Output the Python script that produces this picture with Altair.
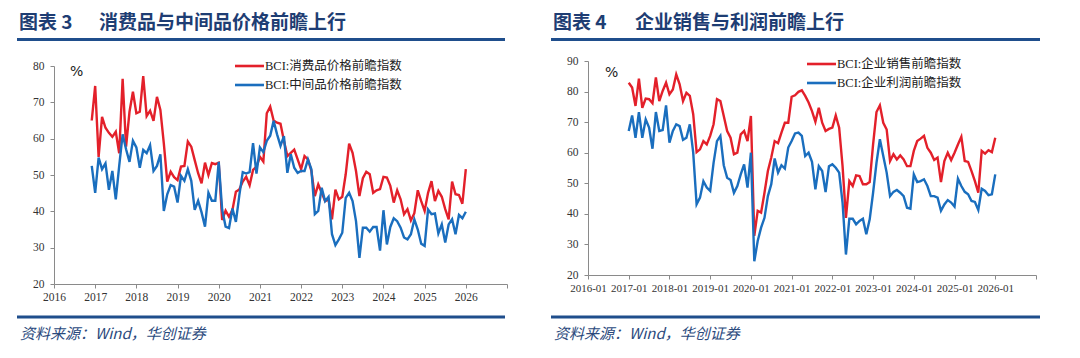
import altair as alt
import pandas as pd

# ---------------- data ----------------
left_start = "2016-12"
left_consumer = [65, 74.5, 55, 66, 63, 61.6, 60.5, 61.9, 56, 76.5, 57.8, 67.4,
                 72.9, 67, 67.4, 77.2, 66.2, 67.7, 64.9, 71.5, 67.9, 58.7, 48.2, 50.9,
                 49.4, 48.6, 52.3, 52.5, 59.2, 57.8, 54.1, 50.5, 47.7, 53.4, 50, 53.3,
                 53, 53.4, 37.6, 40.2, 38.5, 40.4, 45.4, 46, 48.2, 49.5, 47.2, 51.4,
                 52.3, 55, 53.7, 67, 68.8, 65, 64.4, 64.1, 59.4, 55.2, 56.1, 57,
                 54.3, 51.6, 55.2, 54.3, 51.1, 44.2, 47.4, 45.1, 42.8, 43.3, 37.8, 46,
                 43.3, 44, 50.2, 58.6, 56.1, 51.1, 44.2, 49.1, 50.9, 50.2, 45.1, 45.8,
                 46.1, 49.5, 49.3, 47, 42.4, 45.8, 43.3, 39.2, 40.6, 37.5, 39.5, 45.8,
                 42.8, 40.1, 45.1, 48.3, 42.8, 45.6, 44, 40.6, 37.8, 48.2, 44.7, 44.5,
                 42.1, 51.6]
left_intermediate = [52.5, 45.1, 54.8, 51.6, 53.2, 45.9, 51.1, 43.3, 52.5, 61.2, 57.1, 53.6,
                     59.4, 57.6, 52, 56.9, 56, 58.2, 51.1, 52.5, 55.7, 40.1, 44.7, 47.2,
                     46.8, 42.4, 49.8, 48.4, 51.6, 48.4, 40.4, 42.9, 39.7, 35.8, 45.1, 42.9,
                     42.9, 53.6, 40.5, 35.8, 35.4, 40.8, 37.1, 44.4, 50.8, 50.4, 50.8, 58.8,
                     50.4, 57.6, 56.3, 59.4, 60.8, 64.9, 61.2, 58, 60.7, 50.6, 55.7, 52,
                     50.6, 51.1, 51.1, 54.3, 51.6, 39.2, 40.1, 46.5, 42.8, 44, 33.7, 30.7,
                     32.3, 34.1, 43.7, 45.1, 42.8, 37.3, 27.2, 35.5, 35.5, 34.4, 35.7, 35.7,
                     29.2, 40.3, 30.9, 35.7, 38.1, 37.3, 35.5, 32.8, 32.3, 33.7, 37.8, 35,
                     31.1, 30.5, 40.5, 39.2, 39.4, 33.9, 36.4, 31.4, 36.4, 37.8, 33.7, 39,
                     38.1, 39.9]
left_series = ["BCI:消费品价格前瞻指数", "BCI:中间品价格前瞻指数"]

right_start = "2017-01"
right_sales = [82.9, 81.3, 75.3, 84.2, 74.7, 77.7, 77.5, 76.2, 84.6, 76.9, 80.2, 82.9,
               79.1, 80.7, 85.6, 82.4, 76.9, 79.6, 78.6, 72.6, 60.2, 61.1, 63.8, 62.7,
               65.5, 69.3, 77.5, 76.9, 72, 67.1, 64.9, 59.5, 60, 66, 67.1, 63.8,
               72, 32.8, 41, 40.4, 46.9, 54, 58.4, 63.8, 63.1, 66.6, 69.8, 69.8,
               78.3, 78.8, 79.9, 80.4, 78.6, 76.4, 73.6, 70.1, 74.7, 69.8, 67.1, 67.8,
               68.2, 72.2, 68.2, 55.7, 38.7, 50.7, 49.1, 52.6, 52.4, 49.7, 49.7, 50.4,
               62.7, 73.3, 75.5, 69.8, 67.6, 57.3, 59.5, 57.8, 59.1, 57.8, 55.6, 55.6,
               60.6, 63.8, 64.6, 65.5, 61.6, 60, 57.6, 58.4, 50.4, 57.3, 60, 57.6,
               60, 62.7, 65.2, 57.3, 57, 54, 50.7, 46.9, 60.6, 59.7, 60.8, 60.2,
               64.9]
right_profit = [67.1, 72.2, 64.9, 73.3, 64.9, 70.9, 68.2, 61.3, 73.3, 67.1, 67.4, 75.5,
                63.3, 67.1, 69.3, 68.7, 64.2, 64.9, 69.3, 60, 43.1, 45.3, 50.7, 48.6,
                47.5, 56.7, 63.8, 65.5, 55.9, 51.8, 51.1, 46.9, 49.1, 52.9, 56.2, 48.6,
                60, 24.5, 31.1, 35.5, 38.7, 45.8, 49.7, 58.1, 53.5, 55.9, 54.8, 61.7,
                63.8, 66.3, 66.6, 65.5, 58.9, 60, 57, 48, 55.6, 54, 47.1, 55.6,
                56.2, 55.1, 53.5, 43.7, 26.7, 38.4, 38.4, 36.6, 37.7, 38.4, 33.3, 38.2,
                46.9, 56.7, 64.4, 58.9, 53.5, 45.8, 47.2, 47.8, 46.9, 45.8, 42, 41.7,
                52.9, 50.4, 50.7, 51.3, 49.1, 45.8, 45.8, 45.3, 41, 43.1, 44.5, 43.7,
                42.4, 51.5, 49.1, 47.2, 46.4, 44.2, 43.9, 41.3, 48.2, 47.5, 46.1, 46.4,
                52.9]
right_series = ["BCI:企业销售前瞻指数", "BCI:企业利润前瞻指数"]

left_title_no = "图表 3"
left_title = "消费品与中间品价格前瞻上行"
right_title_no = "图表 4"
right_title = "企业销售与利润前瞻上行"
source_text = "资料来源：Wind，华创证券"

RED = "#e3202a"
BLUE = "#1a6ebe"
NAVY = "#1e3d73"
RULE = "#1f4e8c"
CJK = "Noto Sans CJK SC"
SERIF = "Liberation Serif, Noto Sans CJK SC"


def frame(start, a, b, names):
    dates = pd.date_range(start=start + "-01", periods=len(a), freq="MS")
    t = dates.year + (dates.month - 1) / 12.0
    d1 = pd.DataFrame({"t": t, "value": a, "series": names[0]})
    d2 = pd.DataFrame({"t": t, "value": b, "series": names[1]})
    return pd.concat([d1, d2], ignore_index=True)


one = pd.DataFrame({"k": [0]})


def panel(df, names, ydom, yvals, xlabel_expr, W, H, yrange, xfont, title_no, title,
          title_x2, rule_w, leg_x, leg_y, pct_xy):
    axis_common = dict(labelFont=SERIF, labelColor="#333",
                       domainColor="#8a8a8a", tickColor="#8a8a8a", tickSize=4,
                       grid=False, title=None, labelOverlap=False, labelFlush=False)
    lines = alt.Chart(df).mark_line(strokeWidth=2.4).encode(
        x=alt.X("t:Q", scale=alt.Scale(domain=[2016, 2027], nice=False, zero=False),
                axis=alt.Axis(values=list(range(2016, 2028)), labelExpr=xlabel_expr,
                              labelPadding=3, labelFontSize=xfont, **axis_common)),
        y=alt.Y("value:Q", scale=alt.Scale(domain=ydom, nice=False, zero=False,
                                           range=yrange),
                axis=alt.Axis(values=yvals, labelPadding=6, labelFontSize=11.5,
                              **axis_common)),
        color=alt.Color("series:N", scale=alt.Scale(domain=names, range=[RED, BLUE]),
                        legend=None),
        order=alt.Order("series:N"),
    )
    base = alt.Chart(one)
    # white spacer defining the top edge of each panel
    spacer = base.mark_rule(color="white", strokeWidth=1).encode(
        x=alt.value(-37), x2=alt.value(-30), y=alt.value(-52))
    t_no = base.mark_text(align="left", baseline="middle", font=CJK, fontSize=19,
                          fontWeight="bold", color=NAVY).encode(
        x=alt.value(-35), y=alt.value(-38), text=alt.value(title_no))
    t_main = base.mark_text(align="left", baseline="middle", font=CJK, fontSize=19,
                            fontWeight="bold", color=NAVY).encode(
        x=alt.value(title_x2), y=alt.value(-38), text=alt.value(title))
    r_top = base.mark_rule(color=RULE, strokeWidth=3).encode(
        x=alt.value(-37), x2=alt.value(-37 + rule_w), y=alt.value(-21.5))
    r_bot = base.mark_rule(color=RULE, strokeWidth=3).encode(
        x=alt.value(-37), x2=alt.value(-37 + rule_w), y=alt.value(256))
    src = base.mark_text(align="left", baseline="middle", font=CJK, fontSize=15,
                         fontStyle="italic", color="#2b4a7d").encode(
        x=alt.value(-34), y=alt.value(273), text=alt.value(source_text))
    pct = base.mark_text(align="left", baseline="middle", font="DejaVu Sans",
                         fontSize=14, color="#222").encode(
        x=alt.value(pct_xy[0]), y=alt.value(pct_xy[1]), text=alt.value("%"))
    legs = []
    for i, (nm, col) in enumerate(zip(names, [RED, BLUE])):
        yy = leg_y + i * 19
        legs.append(base.mark_rule(color=col, strokeWidth=2.6).encode(
            x=alt.value(leg_x), x2=alt.value(leg_x + 29), y=alt.value(yy)))
        legs.append(base.mark_text(align="left", baseline="middle", font=SERIF,
                                   fontSize=12.5, color="#222").encode(
            x=alt.value(leg_x + 30), y=alt.value(yy), text=alt.value(nm)))
    return alt.layer(lines, spacer, t_no, t_main, r_top, r_bot, src, pct,
                     *legs).properties(width=W, height=H)


left_df = frame(left_start, left_consumer, left_intermediate, left_series)
right_df = frame(right_start, right_sales, right_profit, right_series)

left = panel(left_df, left_series, [20, 80], list(range(20, 81, 10)),
             "datum.value >= 2027 ? '' : '' + datum.value",
             453, 223, [223, 5], 11.5, left_title_no, left_title, 45, 488,
             181, 5, (16, 11))
right = panel(right_df, right_series, [20, 90], list(range(20, 91, 10)),
              "datum.value >= 2027 ? '' : datum.value + '-01'",
              448, 214, [214, 0], 11, right_title_no, right_title, 47, 489,
              219, 3, (17, 12))

chart = alt.hconcat(left, right, spacing=41).properties(
    padding={"left": 7, "top": 0, "right": 0, "bottom": 0},
    background="white",
).configure_view(stroke=None)

chart.save("out.html", embed_options={"renderer": "svg", "actions": False})
